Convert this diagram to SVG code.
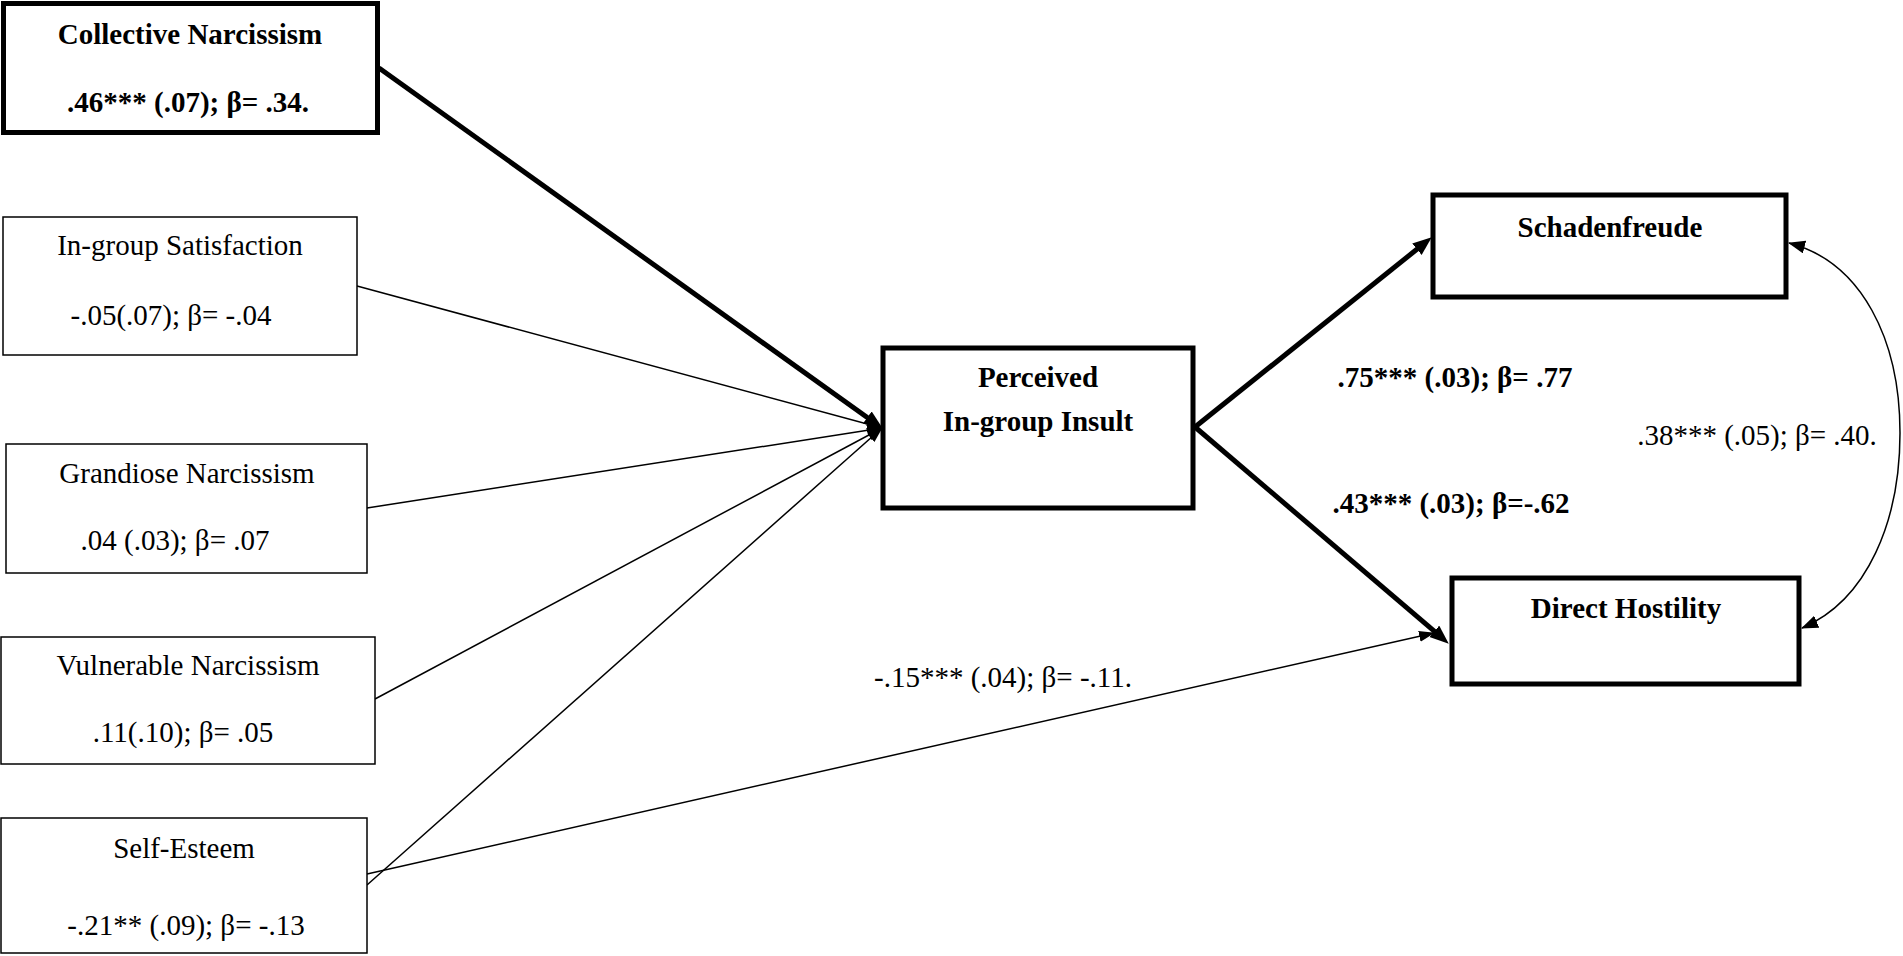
<svg xmlns="http://www.w3.org/2000/svg" width="1903" height="956" viewBox="0 0 1903 956">
<style>
text{font-family:"Liberation Serif","Times New Roman",serif;font-size:29px;fill:#000;text-anchor:middle}
.b{font-weight:bold}
.boxB{fill:#fff;stroke:#000;stroke-width:5}
.boxT{fill:#fff;stroke:#000;stroke-width:1.5}
.thick{fill:none;stroke:#000;stroke-width:5}
.thin{fill:none;stroke:#000;stroke-width:1.5}
</style>
<defs>
<marker id="ahB" markerUnits="userSpaceOnUse" markerWidth="20" markerHeight="16" refX="6" refY="7.5" orient="auto"><path d="M0,0 L19,7.5 L0,15 z" fill="#000"/></marker>
<marker id="ahT" markerUnits="userSpaceOnUse" markerWidth="17" markerHeight="12" refX="15" refY="5.5" orient="auto"><path d="M0,0 L16,5.5 L0,11 z" fill="#000"/></marker>
<marker id="ahC" markerUnits="userSpaceOnUse" markerWidth="18" markerHeight="14" refX="16" refY="6.5" orient="auto-start-reverse"><path d="M0,0 L17,6.5 L0,13 z" fill="#000"/></marker>
</defs>
<g id="connectors">
<line class="thick" x1="379" y1="68" x2="872.2" y2="421" marker-end="url(#ahB)"/>
<line class="thin" x1="357" y1="286" x2="882" y2="428" marker-end="url(#ahT)"/>
<line class="thin" x1="367" y1="508" x2="882" y2="428" marker-end="url(#ahT)"/>
<line class="thin" x1="375" y1="699" x2="882" y2="428" marker-end="url(#ahT)"/>
<line class="thin" x1="367" y1="885" x2="882" y2="428" marker-end="url(#ahT)"/>
<line class="thin" x1="367" y1="874" x2="1434" y2="633" marker-end="url(#ahT)"/>
<line class="thick" x1="1195" y1="427" x2="1421.6" y2="245.5" marker-end="url(#ahB)"/>
<line class="thick" x1="1195" y1="427" x2="1438.9" y2="635.2" marker-end="url(#ahB)"/>
<path class="thin" d="M1789,243 C1862,262 1900,340 1900,433 C1900,520 1868,600 1802,628" marker-start="url(#ahC)" marker-end="url(#ahC)"/>
</g>
<g id="collective-narcissism">
<rect class="boxB" x="3.5" y="3.5" width="374" height="129"/>
<text class="b" x="190" y="44">Collective Narcissism</text>
<text class="b" x="188" y="112">.46*** (.07); β= .34.</text>
</g>
<g id="ingroup-satisfaction">
<rect class="boxT" x="3" y="217" width="354" height="138"/>
<text x="180" y="255">In-group Satisfaction</text>
<text x="171" y="325">-.05(.07); β= -.04</text>
</g>
<g id="grandiose-narcissism">
<rect class="boxT" x="6" y="444" width="361" height="129"/>
<text x="187" y="483">Grandiose Narcissism</text>
<text x="175" y="550">.04 (.03); β= .07</text>
</g>
<g id="vulnerable-narcissism">
<rect class="boxT" x="1" y="637" width="374" height="127"/>
<text x="188" y="675">Vulnerable Narcissism</text>
<text x="183" y="742">.11(.10); β= .05</text>
</g>
<g id="self-esteem">
<rect class="boxT" x="1" y="818" width="366" height="135"/>
<text x="184" y="858">Self-Esteem</text>
<text x="186" y="935">-.21** (.09); β= -.13</text>
</g>
<g id="perceived-insult">
<rect class="boxB" x="883" y="348" width="310" height="160"/>
<text class="b" x="1038" y="387">Perceived</text>
<text class="b" x="1038" y="431">In-group Insult</text>
</g>
<g id="schadenfreude">
<rect class="boxB" x="1433" y="195" width="353" height="102"/>
<text class="b" x="1610" y="237">Schadenfreude</text>
</g>
<g id="direct-hostility">
<rect class="boxB" x="1452" y="578" width="347" height="106"/>
<text class="b" x="1626" y="618">Direct Hostility</text>
</g>
<g id="labels">
<text class="b" x="1455" y="387">.75*** (.03); β= .77</text>
<text class="b" x="1451" y="513">.43*** (.03); β=-.62</text>
<text x="1757" y="445">.38*** (.05); β= .40.</text>
<text x="1003" y="687">-.15*** (.04); β= -.11.</text>
</g>
</svg>
